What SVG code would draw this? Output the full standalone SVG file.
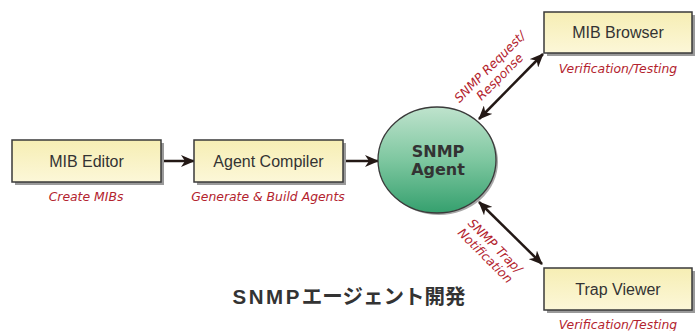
<svg xmlns="http://www.w3.org/2000/svg" width="700" height="331" viewBox="0 0 700 331">
<defs>
<linearGradient id="boxg" x1="0" y1="0" x2="0" y2="1">
<stop offset="0" stop-color="#f6eeb4"/>
<stop offset="1" stop-color="#fcf7d8"/>
</linearGradient>
<linearGradient id="ellg" x1="0" y1="0" x2="0" y2="1">
<stop offset="0" stop-color="#bfe3cd"/>
<stop offset="0.5" stop-color="#7ec7a0"/>
<stop offset="1" stop-color="#35a06e"/>
</linearGradient>
<marker id="ah" viewBox="0 0 14 12" refX="13" refY="6" markerWidth="14" markerHeight="12" markerUnits="userSpaceOnUse" orient="auto-start-reverse">
<path d="M0,0 L14,6 L0,12 L4,6 Z" fill="#231815"/>
</marker>
</defs>
<style>
.box{fill:url(#boxg);stroke:#3a3a3a;stroke-width:1.5}
.shadow{fill:#9a9a9a}
.lbl{font-family:"Liberation Sans",Arial,sans-serif;font-size:16px;fill:#333;text-anchor:middle}
.cap{font-family:"DejaVu Sans",sans-serif;font-style:italic;font-size:12.4px;fill:#b3232e;text-anchor:middle}
.conn{stroke:#231815;stroke-width:2.5;fill:none}
.agent{font-family:"DejaVu Sans",sans-serif;font-weight:bold;font-size:16px;fill:#333;text-anchor:middle}
</style>
<g id="connectors">
<line class="conn" x1="161" y1="161" x2="194" y2="161" marker-end="url(#ah)"/>
<line class="conn" x1="343" y1="161" x2="378" y2="161" marker-end="url(#ah)"/>
<line class="conn" x1="479" y1="119" x2="543" y2="54" marker-start="url(#ah)" marker-end="url(#ah)"/>
<line class="conn" x1="479" y1="202" x2="542" y2="264" marker-start="url(#ah)" marker-end="url(#ah)"/>
<text class="cap" transform="translate(495,72) rotate(-45)"><tspan x="0" y="-3">SNMP Request/</tspan><tspan x="0" y="11">Response</tspan></text>
<text class="cap" transform="translate(490,251) rotate(45)"><tspan x="0" y="-3">SNMP Trap/</tspan><tspan x="0" y="11">Notification</tspan></text>
</g>
<g id="mib-editor">
<rect class="shadow" x="15" y="143" width="149" height="42"/>
<rect class="box" x="12" y="140" width="149" height="42"/>
<text class="lbl" x="86.5" y="167">MIB Editor</text>
<text class="cap" x="86" y="201">Create MIBs</text>
</g>
<g id="agent-compiler">
<rect class="shadow" x="197" y="143" width="149" height="42"/>
<rect class="box" x="194" y="140" width="149" height="42"/>
<text class="lbl" x="268.5" y="167">Agent Compiler</text>
<text class="cap" x="268" y="201">Generate &amp; Build Agents</text>
</g>
<g id="snmp-agent">
<ellipse cx="439" cy="162" rx="59" ry="53" fill="#a8a8a8"/>
<ellipse cx="437" cy="160" rx="59" ry="53" fill="url(#ellg)" stroke="#3a3a3a" stroke-width="1.3"/>
<text class="agent" x="438" y="157">SNMP</text>
<text class="agent" x="438" y="175">Agent</text>
</g>
<g id="mib-browser">
<rect class="shadow" x="547" y="15" width="148" height="41"/>
<rect class="box" x="544" y="12" width="148" height="41"/>
<text class="lbl" x="618" y="38">MIB Browser</text>
<text class="cap" x="618" y="73">Verification/Testing</text>
</g>
<g id="trap-viewer">
<rect class="shadow" x="547" y="271" width="148" height="42"/>
<rect class="box" x="544" y="268" width="148" height="42"/>
<text class="lbl" x="618" y="295">Trap Viewer</text>
<text class="cap" x="618" y="329">Verification/Testing</text>
</g>
<g id="title">
<text x="349" y="304" font-family="'Liberation Sans','Noto Sans CJK JP',sans-serif" font-weight="bold" font-size="20.5" fill="#333" text-anchor="middle"><tspan letter-spacing="2.5">SNMP</tspan>エージェント開発</text>
</g>
</svg>
